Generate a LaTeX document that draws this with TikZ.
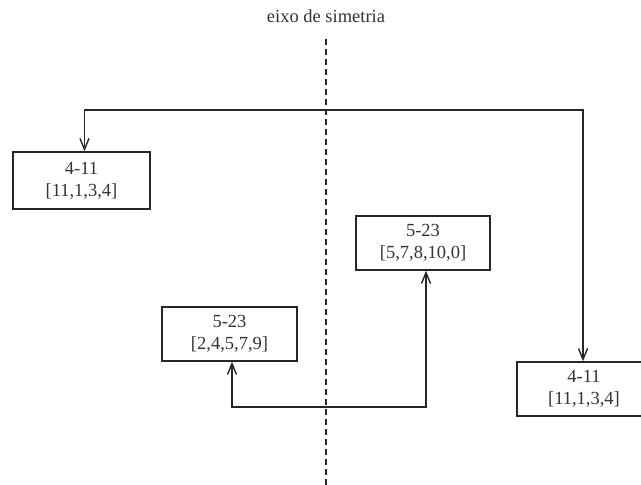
\documentclass[tikz,border=0pt]{standalone}
\usepackage{fontspec}
\setmainfont{Liberation Serif}
\usetikzlibrary{arrows.meta}
\definecolor{ln}{HTML}{262626}
\definecolor{tx}{HTML}{333333}
\tikzset{
  box/.style={draw=ln, line width=1.4pt, minimum height=54pt, inner sep=0pt,
    align=center, text=tx, font=\fontsize{18.5}{22}\selectfont},
  conn/.style={draw=ln, line width=1.4pt, {Straight Barb[length=11pt,width=9pt]}-{Straight Barb[length=11pt,width=9pt]}},
  axis/.style={draw=ln, line width=1.7pt, dash pattern=on 6pt off 4pt},
  lbl/.style={text=tx, font=\fontsize{18.5}{22}\selectfont, inner sep=0pt}
}
\begin{document}
\begin{tikzpicture}[x=1pt,y=-1pt]
\useasboundingbox (0,0) rectangle (641,485);
% axis
\node[lbl] (lab) at (326,16) {eixo de simetria};
\coordinate (ax1) at (326,39);
\coordinate (ax2) at (326,486);
\draw[axis] (ax1) -- (ax2);
% boxes
\node[box, minimum width=137pt, minimum height=57pt] (A) at (81.5,180.5) {4-11\\{[}11,1,3,4{]}};
\node[box, minimum width=135pt] (B) at (229.5,334) {5-23\\{[}2,4,5,7,9{]}};
\node[box, minimum width=134pt] (C) at (423,243) {5-23\\{[}5,7,8,10,0{]}};
\node[box, minimum width=134pt] (D) at (584,389) {4-11\\{[}11,1,3,4{]}};
% connector end points on the boxes
\coordinate (An) at ([xshift=3pt]A.north);
\coordinate (Bs) at ([xshift=2.5pt]B.south);
\coordinate (Cs) at ([xshift=3pt]C.south);
\coordinate (Dn) at ([xshift=-1pt]D.north);
\coordinate (ty) at (0,110);
\coordinate (by) at (0,407);
% connectors
\draw[conn] (An) |- (ty -| Dn) -- (Dn);
\draw[conn] (Bs) |- (by -| Cs) -- (Cs);
\end{tikzpicture}
\end{document}
